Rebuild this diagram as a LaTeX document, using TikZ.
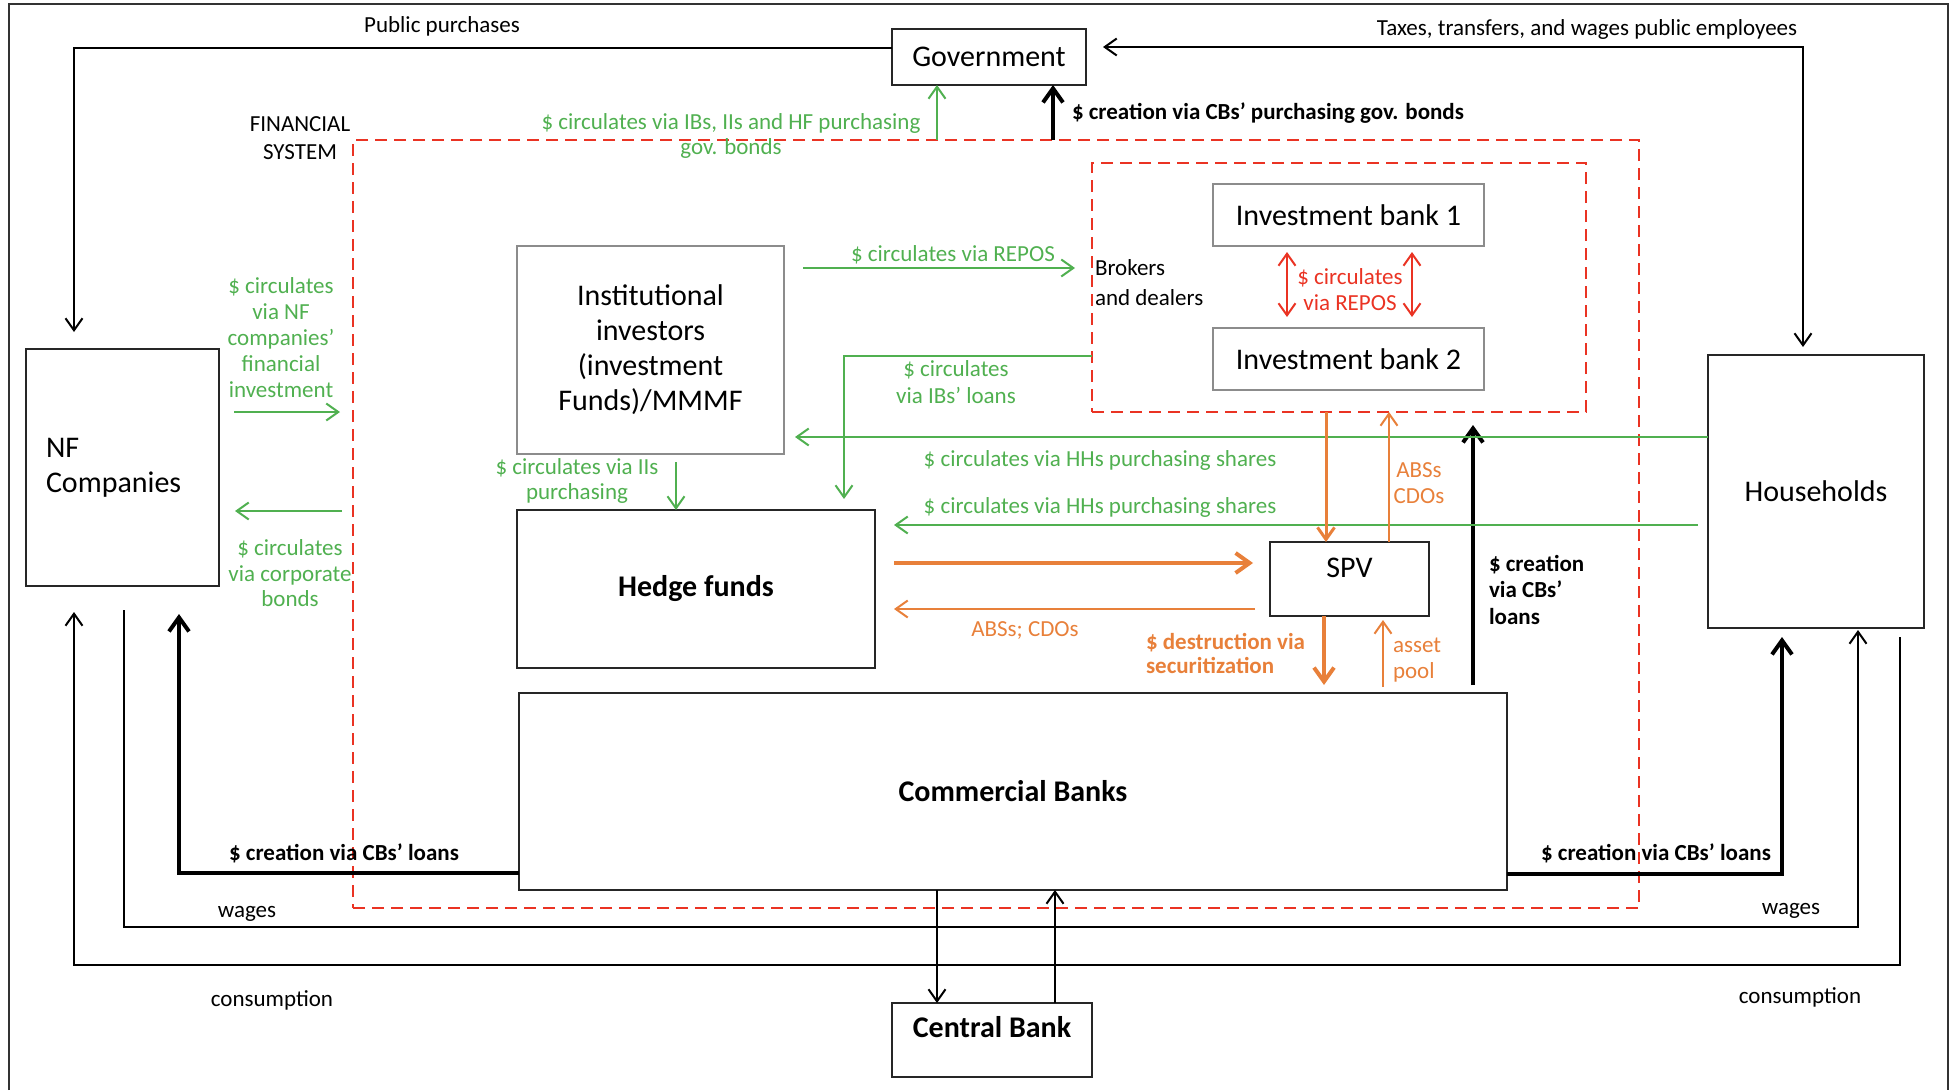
\documentclass[tikz,border=0pt]{standalone}
\usepackage{fontspec}
\setmainfont{Carlito}
\usetikzlibrary{arrows.meta}
\definecolor{cgreen}{RGB}{80,176,80}
\definecolor{cred}{RGB}{234,51,35}
\definecolor{corange}{RGB}{232,128,58}
\newcommand\mybig{\fontsize{30}{35}\selectfont}
\newcommand\mysmall{\fontsize{23}{25}\selectfont}
\begin{document}
\begin{tikzpicture}[x=1pt,y=-1pt,
  box/.style={draw=black!85,line width=2pt,fill=white,inner sep=0pt,outer sep=0pt,align=center,font=\mybig},
  gbox/.style={box,draw=black!45,line width=2.5pt},
  dbox/.style={draw=cred,line width=2.5pt,dash pattern=on 12pt off 7pt,inner sep=0pt,outer sep=0pt},
  lab/.style={inner sep=0pt,outer sep=0pt,align=center,font=\mysmall},
  glab/.style={lab,text=cgreen},
  olab/.style={lab,text=corange},
  rlab/.style={lab,text=cred},
  ar/.style={line width=2pt,-{Straight Barb[length=12pt,width=17pt]}},
  dar/.style={line width=2pt,{Straight Barb[length=12pt,width=17pt]}-{Straight Barb[length=12pt,width=17pt]}},
  tar/.style={line width=4pt,-{Straight Barb[length=14pt,width=20pt]}},
]
\useasboundingbox (0,0) rectangle (1955,1090);
% frame
\draw[line width=1.5pt,black!80] (9,1090) -- (9,4) -- (1948,4) -- (1948,1090);

% dashed financial system boxes
\node[dbox,minimum width=1286pt,minimum height=768pt] (fs) at (996,524) {};
\node[dbox,minimum width=494pt,minimum height=249pt] (ibox) at (1339,287.5) {};

% boxes
\node[box,minimum width=194pt,minimum height=56pt] (gov) at (989,57) {Government};
\node[box,minimum width=193pt,minimum height=237pt,text width=153pt,align=left,inner xsep=20pt] (nf) at (122.5,467.5) {NF\\Companies};
\node[gbox,minimum width=267pt,minimum height=208pt] (inst) at (650.5,350) {Institutional\\investors\\(investment\\Funds)/MMMF};
\node[box,minimum width=358pt,minimum height=158pt,font=\mybig\bfseries] (hedge) at (696,589) {Hedge funds};
\node[gbox,minimum width=271pt,minimum height=62pt] (ib1) at (1348.5,215) {Investment bank 1};
\node[gbox,minimum width=271pt,minimum height=62pt] (ib2) at (1348.5,359) {Investment bank 2};
\node[box,minimum width=159pt,minimum height=74pt] (spv) at (1349.5,579) {\raisebox{1.5pt}[0pt][0pt]{SPV}};
\node[box,minimum width=216pt,minimum height=273pt] (hh) at (1816,491.5) {Households};
\node[box,minimum width=988pt,minimum height=197pt,font=\mybig\bfseries] (cb) at (1013,791.5) {Commercial Banks};
\node[box,minimum width=200pt,minimum height=74pt,font=\mybig\bfseries] (cenb) at (992,1040) {\raisebox{2.5pt}[0pt][0pt]{Central Bank}};

% free-end coordinates
\coordinate (pp) at (74,332);
\coordinate (g1) at (937,140);
\coordinate (g2) at (1053,140);
\coordinate (nfa) at (340,412);
\coordinate (nfb) at (342,511);
\coordinate (b1e) at (1473,425);
\coordinate (w1) at (1000,927);
\coordinate (c1) at (1000,965);
\coordinate (o1) at ([xshift=-13pt]ibox.south);
\coordinate (o2) at ([xshift=39.5pt]spv.north);
\coordinate (o3) at ([xshift=-25.5pt]spv.south);
\coordinate (o4) at ([xshift=33.5pt]spv.south);
\coordinate (z1) at ([xshift=-76pt]cb.south);
\coordinate (z2) at ([xshift=63pt]cenb.north);

% black flows
\draw[ar] ([yshift=9pt]gov.west) -| (pp);
\draw[dar,shorten <=17pt,shorten >=8pt] ([yshift=10pt]gov.east) -| ([xshift=-13pt]hh.north);
\draw[tar] (g2) -- (g2 |- gov.south);
\draw[tar,shorten <=8pt] ([xshift=460pt]cb.north) -- (b1e);
\draw[tar,shorten >=28pt] ([yshift=-81.5pt]cb.west) -| ([xshift=56.5pt]nf.south);
\draw[tar,shorten >=9pt] ([yshift=-82.5pt]cb.east) -| ([xshift=-34pt]hh.south);
\draw[ar,shorten <=24pt,shorten >=2pt] ([xshift=1.5pt]nf.south) |- (w1) -| ([xshift=42pt]hh.south);
\draw[ar,shorten <=9pt,shorten >=26pt] ([xshift=84pt]hh.south) |- (c1) -| ([xshift=-48.5pt]nf.south);
\draw[ar] (z1) -- (z1 |- cenb.north);
\draw[ar] (z2) -- (z2 |- cb.south);

% green flows
\draw[ar,cgreen] (g1) -- (g1 |- gov.south);
\draw[ar,cgreen,shorten <=19pt,shorten >=17pt] ([yshift=82pt]inst.east) -- ([yshift=19.5pt]ibox.west);
\draw[ar,cgreen,shorten >=11pt] ([yshift=-68.5pt]ibox.west) -| ([xshift=148pt]hedge.north);
\draw[ar,cgreen,shorten <=8pt] ([xshift=25.5pt]inst.south) -- ([xshift=-20pt]hedge.north);
\draw[ar,cgreen,shorten >=11pt] ([yshift=54.5pt]hh.west) -- ([yshift=-87pt]inst.east);
\draw[ar,cgreen,shorten <=10pt,shorten >=19pt] ([yshift=-33.5pt]hh.west) -- ([yshift=64pt]hedge.east);
\draw[ar,cgreen,shorten <=15pt] ([yshift=55.5pt]nf.east) -- (nfa);
\draw[ar,cgreen,shorten >=16pt] (nfb) -- ([yshift=-43.5pt]nf.east);

% red flows
\draw[dar,cred,shorten <=6pt,shorten >=11pt] ([xshift=-61.5pt]ib1.south) -- ([xshift=-61.5pt]ib2.north);
\draw[dar,cred,shorten <=6pt,shorten >=11pt] ([xshift=63.5pt]ib1.south) -- ([xshift=63.5pt]ib2.north);

% orange flows
\draw[ar,corange,line width=3pt] (o1) -- (o1 |- spv.north);
\draw[ar,corange] (o2) -- (o2 |- ibox.south);
\draw[tar,corange,shorten <=19pt,shorten >=17pt] ([yshift=26pt]hedge.east) -- ([yshift=16pt]spv.west);
\draw[ar,corange,shorten <=15pt,shorten >=19pt] ([yshift=-30pt]spv.west) -- ([yshift=-20pt]hedge.east);
\draw[tar,corange,shorten >=8pt] (o3) -- (o3 |- cb.north);
\draw[ar,corange,shorten <=6pt,shorten >=4pt] (o4 |- cb.north) -- (o4);

% labels
\node[lab] (lpp) at (442,26) {Public purchases};
\node[lab] (ltax) at (1587,29) {Taxes, transfers, and wages public employees};
\node[lab,font=\fontsize{23}{28}\selectfont] (lfs) at (300,138) {FINANCIAL\\SYSTEM};
\node[glab] (lgov) at (731,135.5) {\$ circulates via IBs, IIs and HF purchasing\\gov. bonds};
\node[lab,anchor=west,font=\mysmall\bfseries] (lcrg) at (1072,113) {\$ creation via CBs’ purchasing gov. bonds};
\node[glab] (lrepo) at (953,255) {\$ circulates via REPOS};
\node[lab,anchor=west,align=left,font=\fontsize{23}{30}\selectfont] (lbro) at (1095,283) {Brokers\\and dealers};
\node[rlab,font=\fontsize{23}{26}\selectfont] (lrr) at (1350,290) {\$ circulates\\via REPOS};
\node[glab,font=\fontsize{23}{27}\selectfont] (libl) at (956,382.5) {\$ circulates\\via IBs’ loans};
\node[glab] (lhh1) at (1100,460) {\$ circulates via HHs purchasing shares};
\node[glab] (lhh2) at (1100,507) {\$ circulates via HHs purchasing shares};
\node[glab,font=\fontsize{23}{25.8}\selectfont] (lnfi) at (281,337.5) {\$ circulates\\via NF\\companies’\\financial\\investment};
\node[glab,font=\fontsize{23}{25.5}\selectfont] (lcorp) at (290,573.5) {\$ circulates\\via corporate\\bonds};
\node[glab] (liis) at (577,480.5) {\$ circulates via IIs\\purchasing};
\node[olab,font=\fontsize{23}{26}\selectfont] (labs) at (1419,483) {ABSs\\CDOs};
\node[olab] (labs2) at (1025,630) {ABSs; CDOs};
\node[olab,anchor=west,align=left,font=\fontsize{23}{24}\selectfont\bfseries] (ldes) at (1146,653) {\$ destruction via\\securitization};
\node[olab,anchor=west,align=left,font=\fontsize{23}{26}\selectfont] (lasset) at (1393,660) {asset\\pool};
\node[lab,anchor=west,align=left,font=\fontsize{23}{26.5}\selectfont\bfseries] (lcrl) at (1489,589.5) {\$ creation\\via CBs’\\loans};
\node[lab,font=\mysmall\bfseries] (lcr1) at (344,853) {\$ creation via CBs’ loans};
\node[lab,font=\mysmall\bfseries] (lcr2) at (1656,853) {\$ creation via CBs’ loans};
\node[lab] (lw1) at (247,914) {wages};
\node[lab] (lw2) at (1791,911) {wages};
\node[lab] (lc1) at (272,1000) {consumption};
\node[lab] (lc2) at (1800,997) {consumption};
\end{tikzpicture}
\end{document}
